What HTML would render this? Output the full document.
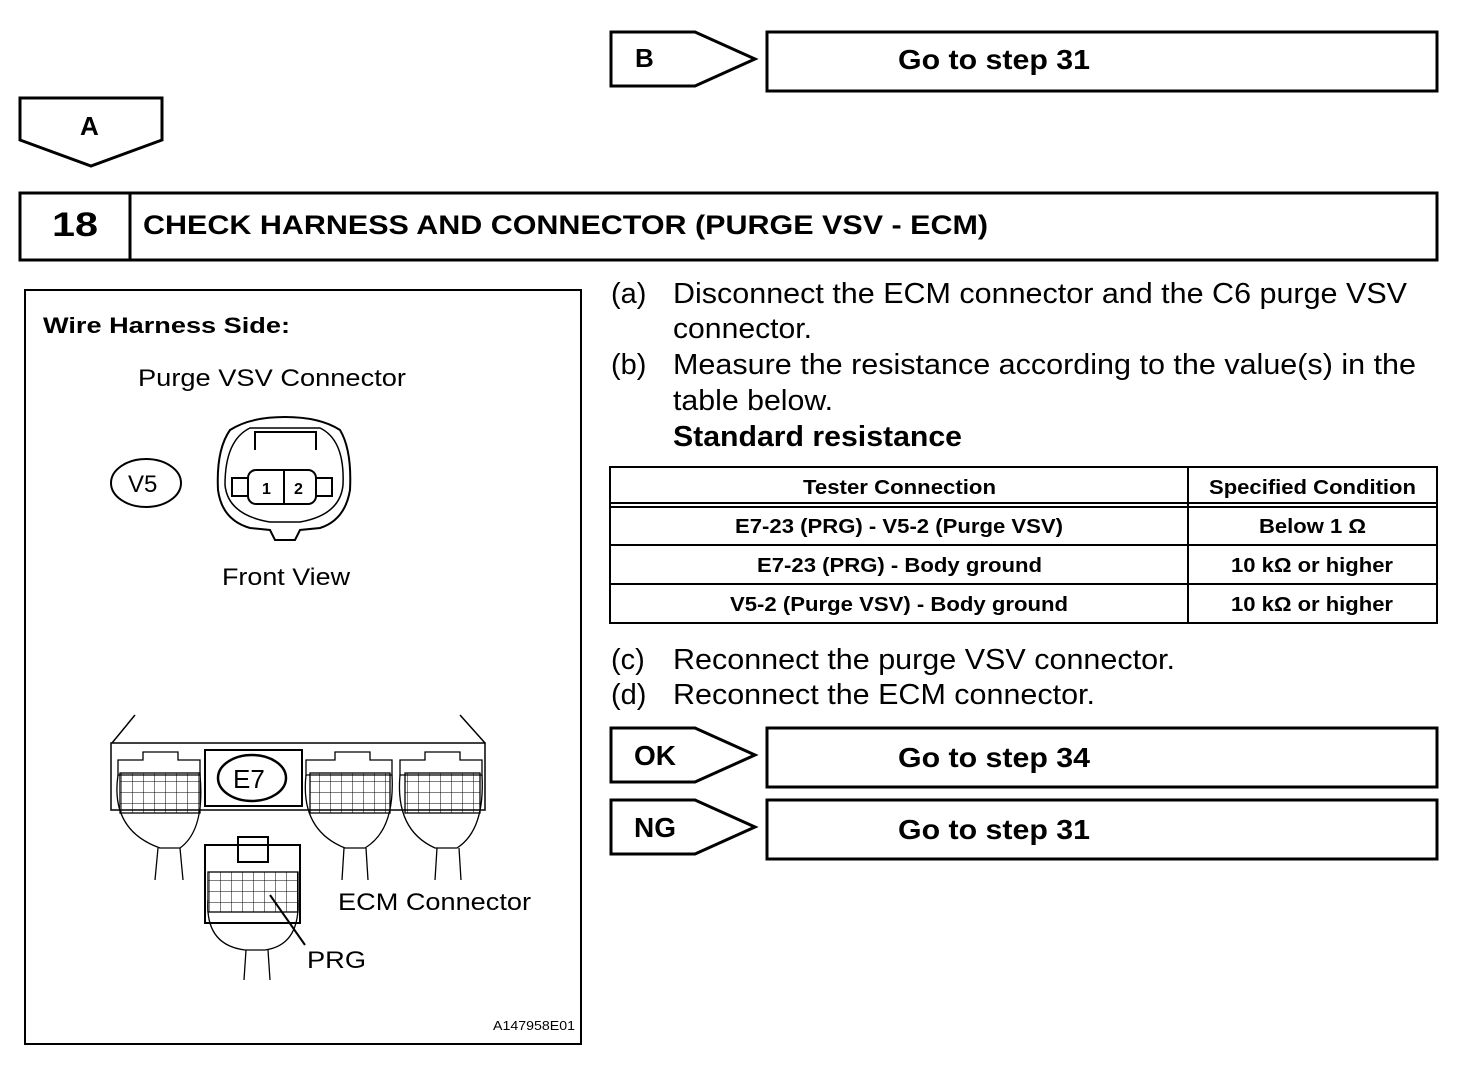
<!DOCTYPE html>
<html><head><meta charset="utf-8"><style>
html,body{margin:0;padding:0;background:#fff}
svg{display:block}
text{font-family:"Liberation Sans",sans-serif;fill:#000}
.b{font-weight:bold}
</style></head><body>
<svg width="1472" height="1074" viewBox="0 0 1472 1074" xmlns="http://www.w3.org/2000/svg">
<g fill="none" stroke="#000" stroke-width="3">
<polygon points="611,32 695,32 755,59 695,86 611,86"/>
<rect x="767" y="32" width="670" height="59"/>
<polygon points="20,98 162,98 162,140 91,166 20,140"/>
<rect x="20" y="193" width="1417" height="67"/>
<line x1="130" y1="193" x2="130" y2="260"/>
<polygon points="611,728 695,728 755,755 695,782 611,782"/>
<rect x="767" y="728" width="670" height="59"/>
<polygon points="611,800 695,800 755,827 695,854 611,854"/>
<rect x="767" y="800" width="670" height="59"/>
</g>
<text x="635" y="67" class="b" font-size="26">B</text>
<text x="898" y="69" class="b" font-size="28" textLength="192" lengthAdjust="spacingAndGlyphs">Go to step 31</text>
<text x="80" y="135" class="b" font-size="26">A</text>
<text x="52" y="236" class="b" font-size="34" textLength="46" lengthAdjust="spacingAndGlyphs">18</text>
<text x="143" y="234" class="b" font-size="27" textLength="845" lengthAdjust="spacingAndGlyphs">CHECK HARNESS AND CONNECTOR (PURGE VSV - ECM)</text>
<text x="634" y="765" class="b" font-size="28">OK</text>
<text x="898" y="767" class="b" font-size="28" textLength="192" lengthAdjust="spacingAndGlyphs">Go to step 34</text>
<text x="634" y="837" class="b" font-size="28">NG</text>
<text x="898" y="839" class="b" font-size="28" textLength="192" lengthAdjust="spacingAndGlyphs">Go to step 31</text>

<g font-size="29">
<text x="611" y="303">(a)</text>
<text x="673" y="303" textLength="734" lengthAdjust="spacingAndGlyphs">Disconnect the ECM connector and the C6 purge VSV</text>
<text x="673" y="338" textLength="139" lengthAdjust="spacingAndGlyphs">connector.</text>
<text x="611" y="374">(b)</text>
<text x="673" y="374" textLength="743" lengthAdjust="spacingAndGlyphs">Measure the resistance according to the value(s) in the</text>
<text x="673" y="410" textLength="160" lengthAdjust="spacingAndGlyphs">table below.</text>
<text x="673" y="446" class="b" textLength="289" lengthAdjust="spacingAndGlyphs">Standard resistance</text>
<text x="611" y="669">(c)</text>
<text x="673" y="669" textLength="502" lengthAdjust="spacingAndGlyphs">Reconnect the purge VSV connector.</text>
<text x="611" y="704">(d)</text>
<text x="673" y="704" textLength="422" lengthAdjust="spacingAndGlyphs">Reconnect the ECM connector.</text>
</g>

<g fill="none" stroke="#000" stroke-width="2">
<rect x="610" y="467" width="827" height="156"/>
<line x1="610" y1="503" x2="1437" y2="503"/>
<line x1="610" y1="507" x2="1437" y2="507"/>
<line x1="610" y1="545" x2="1437" y2="545"/>
<line x1="610" y1="584" x2="1437" y2="584"/>
<line x1="1188" y1="467" x2="1188" y2="623"/>
</g>
<g class="b" font-size="20" font-weight="bold">
<text x="803" y="494" textLength="193" lengthAdjust="spacingAndGlyphs">Tester Connection</text>
<text x="1209" y="494" textLength="207" lengthAdjust="spacingAndGlyphs">Specified Condition</text>
<text x="735" y="533" textLength="328" lengthAdjust="spacingAndGlyphs">E7-23 (PRG) - V5-2 (Purge VSV)</text>
<text x="1259" y="533" textLength="107" lengthAdjust="spacingAndGlyphs">Below 1 Ω</text>
<text x="757" y="572" textLength="285" lengthAdjust="spacingAndGlyphs">E7-23 (PRG) - Body ground</text>
<text x="1231" y="572" textLength="162" lengthAdjust="spacingAndGlyphs">10 kΩ or higher</text>
<text x="730" y="611" textLength="338" lengthAdjust="spacingAndGlyphs">V5-2 (Purge VSV) - Body ground</text>
<text x="1231" y="611" textLength="162" lengthAdjust="spacingAndGlyphs">10 kΩ or higher</text>
</g>

<!-- left figure -->
<rect x="25" y="290" width="556" height="754" fill="none" stroke="#000" stroke-width="2"/>
<text x="43" y="333" class="b" font-size="22" textLength="247" lengthAdjust="spacingAndGlyphs">Wire Harness Side:</text>
<text x="138" y="386" font-size="24" textLength="268" lengthAdjust="spacingAndGlyphs">Purge VSV Connector</text>
<ellipse cx="146" cy="483" rx="35" ry="24" fill="none" stroke="#000" stroke-width="2"/>
<text x="128" y="492" font-size="24">V5</text>
<g fill="none" stroke="#000" stroke-width="2">
<path d="M230,430 Q250,417 285,417 Q320,417 340,430 Q352,450 350,490 Q345,520 320,528 L300,530 L295,540 L275,540 L270,530 L250,528 Q222,520 218,490 Q216,450 230,430 Z"/>
<path d="M250,428 L320,428 Q345,440 343,485 Q340,515 300,522 L270,522 Q228,515 225,485 Q225,440 250,428 Z" stroke-width="1.5"/>
<path d="M255,450 L255,432 L316,432 L316,450"/>
<rect x="248" y="470" width="68" height="34" rx="8"/>
<line x1="284" y1="470" x2="284" y2="504"/>
<rect x="232" y="478" width="16" height="18"/>
<rect x="316" y="478" width="16" height="18"/>
</g>
<text x="262" y="494" class="b" font-size="16">1</text>
<text x="294" y="494" class="b" font-size="16">2</text>
<text x="222" y="585" font-size="24" textLength="128" lengthAdjust="spacingAndGlyphs">Front View</text>

<!-- ECM -->
<g fill="none" stroke="#000" stroke-width="1.5">
<line x1="112" y1="743" x2="135" y2="715"/>
<line x1="485" y1="743" x2="460" y2="715"/>
<path d="M111,743 L485,743 L485,810 L111,810 Z"/>
<rect x="205" y="750" width="97" height="56" stroke-width="2"/>
</g>
<ellipse cx="252" cy="778" rx="34" ry="23" fill="none" stroke="#000" stroke-width="2.5"/>
<text x="233" y="788" font-size="26">E7</text>
<defs>
<pattern id="g" width="11" height="11" patternUnits="userSpaceOnUse">
<path d="M0,0 H11 M0,0 V11" fill="none" stroke="#000" stroke-width="1"/>
</pattern>
</defs>
<g fill="none" stroke="#000" stroke-width="1.3">
<!-- left sub-connector -->
<rect x="120" y="773" width="80" height="40" fill="url(#g)"/>
<path d="M143,752 L178,752 L178,760 L200,760 L200,775 L118,775 L118,760 L143,760 Z"/>
<path d="M118,775 Q110,830 160,848 L180,848 Q205,830 200,775"/>
<path d="M158,848 L155,880 M180,848 L183,880"/>
<!-- right connectors -->
<rect x="310" y="773" width="80" height="40" fill="url(#g)"/>
<path d="M335,752 L370,752 L370,760 L392,760 L392,775 L306,775 L306,760 L335,760 Z"/>
<path d="M306,775 Q300,830 345,848 L365,848 Q395,830 392,775"/>
<path d="M344,848 L342,880 M366,848 L368,880"/>
<rect x="405" y="773" width="75" height="40" fill="url(#g)"/>
<path d="M425,752 L460,752 L460,760 L482,760 L482,775 L400,775 L400,760 L425,760 Z"/>
<path d="M400,775 Q395,830 435,848 L457,848 Q485,830 482,775"/>
<path d="M437,848 L435,880 M459,848 L461,880"/>
<!-- lower E7 connector -->
<rect x="205" y="845" width="95" height="78" stroke-width="2"/>
<rect x="238" y="837" width="30" height="25" stroke-width="2"/>
<rect x="208" y="872" width="90" height="40" fill="url(#g)"/>
<path d="M208,900 Q205,945 245,950 L265,950 Q300,945 298,900"/>
<path d="M246,950 L244,980 M268,950 L270,980"/>
<line x1="270" y1="895" x2="305" y2="945" stroke-width="2"/>
</g>
<text x="338" y="910" font-size="24" textLength="193" lengthAdjust="spacingAndGlyphs">ECM Connector</text>
<text x="307" y="968" font-size="24" textLength="59" lengthAdjust="spacingAndGlyphs">PRG</text>
<text x="493" y="1030" font-size="13" textLength="82" lengthAdjust="spacingAndGlyphs">A147958E01</text>
</svg>
</body></html>
